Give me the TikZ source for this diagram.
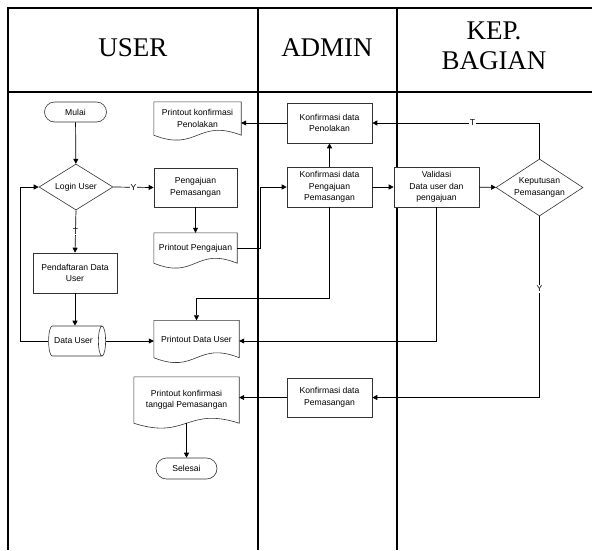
\documentclass[tikz,border=0pt]{standalone}
\usepackage{fontspec}
\setmainfont{Liberation Sans}
\newfontfamily\headfont{Liberation Serif}
\usetikzlibrary{calc}
\usetikzlibrary{arrows.meta}
\usetikzlibrary{shapes.geometric}
\usetikzlibrary{shapes.misc}
\newcommand{\boxfont}{\fontsize{8.6}{11.5}\selectfont}
\newcommand{\lanefont}{\headfont\fontsize{27}{30}\selectfont}
\newcommand{\wave}{17}
% wavy bottom of a printout
\newcommand{\docline}[1]{%
  \draw[line width=0.6pt,draw=black!80]
    (#1.south west) -- (#1.north west) -- (#1.north east) -- (#1.south east)
    .. controls ($(#1.south)+(0,-\wave)$) and ($(#1.south)+(0,\wave)$) .. (#1.south west);}
\tikzset{
  frame/.style={line width=1.6pt},
  link/.style={line width=0.7pt,-{Triangle[length=5pt,width=5pt]}},
  proc/.style={draw=black!80,line width=0.6pt,fill=white,minimum width=85pt,
    minimum height=40pt,align=center,font=\boxfont,inner sep=1pt},
  term/.style={rounded rectangle,draw=black!80,line width=0.6pt,fill=white,
    minimum width=64pt,minimum height=20pt,font=\boxfont,inner sep=1pt},
  decide/.style={diamond,aspect=1.6,draw=black!80,line width=0.6pt,fill=white,
    align=center,font=\boxfont,inner sep=0pt},
  store/.style={cylinder,draw=black!80,line width=0.6pt,fill=white,
    shape aspect=0.3,minimum width=30pt,minimum height=57pt,font=\boxfont,
    inner xsep=1pt,inner ysep=9pt},
  printout/.style={align=center,font=\boxfont,inner sep=1pt},
  tag/.style={fill=white,inner sep=1pt,font=\boxfont}
}
\begin{document}
\begin{tikzpicture}[x=1pt,y=-1pt]
  \useasboundingbox (0,0) rectangle (592,550);

  % Swimlanes
  \draw[frame] (592,8) -- (8,8) -- (8,550);
  \draw[frame] (8,92) -- (592,92);
  \draw[frame] (258,8) -- (258,550);
  \draw[frame] (397,8) -- (397,550);
  \node[font=\lanefont] (LU) at (133,48) {USER};
  \node[font=\lanefont] (LA) at (327,48) {ADMIN};
  \node[font=\lanefont,align=center] (LK) at (494,46) {KEP.\\BAGIAN};

  % User lane
  \node[term] (mulai) at (75.5,112) {Mulai};
  \node[decide,minimum width=74pt,minimum height=46pt] (login) at (76,187) {Login User};
  \node[proc,minimum width=84pt] (daftar) at (75,273) {Pendaftaran Data\\User};
  \node[store] (datauser) at (73.5,341) {Data User};
  \node[proc,minimum width=83pt,minimum height=39pt] (ajuan) at (195.5,187.5) {Pengajuan\\Pemasangan};
  \node[printout,minimum width=87pt,minimum height=33pt] (ptolak) at (197.5,118.5) {Printout konfirmasi\\Penolakan};
  \node[printout,minimum width=83pt,minimum height=30pt] (pajuan) at (195.5,248) {Printout Pengajuan};
  \node[printout,minimum width=85pt,minimum height=37pt] (pdata) at (196.5,339) {Printout Data User};
  \node[printout,minimum width=105pt,minimum height=46pt] (ptgl) at (186.5,400) {Printout konfirmasi\\tanggal Pemasangan};
  \node[term,minimum width=63pt,minimum height=21pt] (selesai) at (186.5,468.5) {Selesai};
  \docline{ptolak}
  \docline{pajuan}
  \docline{pdata}
  \docline{ptgl}

  % Admin lane
  \node[proc] (ktolak) at (329.5,123) {Konfirmasi data\\Penolakan};
  \node[proc] (kajuan) at (329.5,187) {Konfirmasi data\\Pengajuan\\Pemasangan};
  \node[proc,minimum height=39pt] (kpasang) at (329.5,397.5) {Konfirmasi data\\Pemasangan};

  % Kep. bagian lane
  \node[proc] (valid) at (436.5,187) {Validasi\\Data user dan\\pengajuan};
  \node[decide,minimum width=87pt,minimum height=57pt] (putus) at (539.5,187.5) {Keputusan\\Pemasangan};

  % Flow
  \draw[link] (mulai) -- (login);
  \draw[link] (login.east) -- node[tag] {Y} (ajuan.west);
  \draw[link] (login.south) -- node[tag] {T} (daftar.north);
  \draw[link] (daftar.south) -- (daftar.south |- datauser.north);
  \draw[link] (datauser.west) -- ++(-28,0) |- (login.west);
  \draw[link] (datauser.east) -- (datauser.east -| pdata.west);
  \draw[link] (ajuan) -- (pajuan);
  \draw[link] (pajuan.east) -- ++(23,0) |- (kajuan.west);
  \draw[link] (kajuan) -- (ktolak);
  \draw[link] (ktolak.west) -- (ktolak.west -| ptolak.east);
  \draw[link] (kajuan) -- (valid);
  \draw[link] (valid) -- (putus);
  \draw[link] (putus.north) |- node[tag,pos=0.7] {T} (ktolak.east);
  \draw[link] (putus.south) |- node[tag,pos=0.2] {Y} (kpasang.east);
  \draw[link] (kajuan.south) -- ++(0,91) -| (pdata.north);
  \draw[link] (valid.south) |- (datauser.east -| pdata.east);
  \draw[link] (kpasang.west) -- (kpasang.west -| ptgl.east);
  \draw[link] (ptgl.south) -- (selesai);
\end{tikzpicture}
\end{document}
